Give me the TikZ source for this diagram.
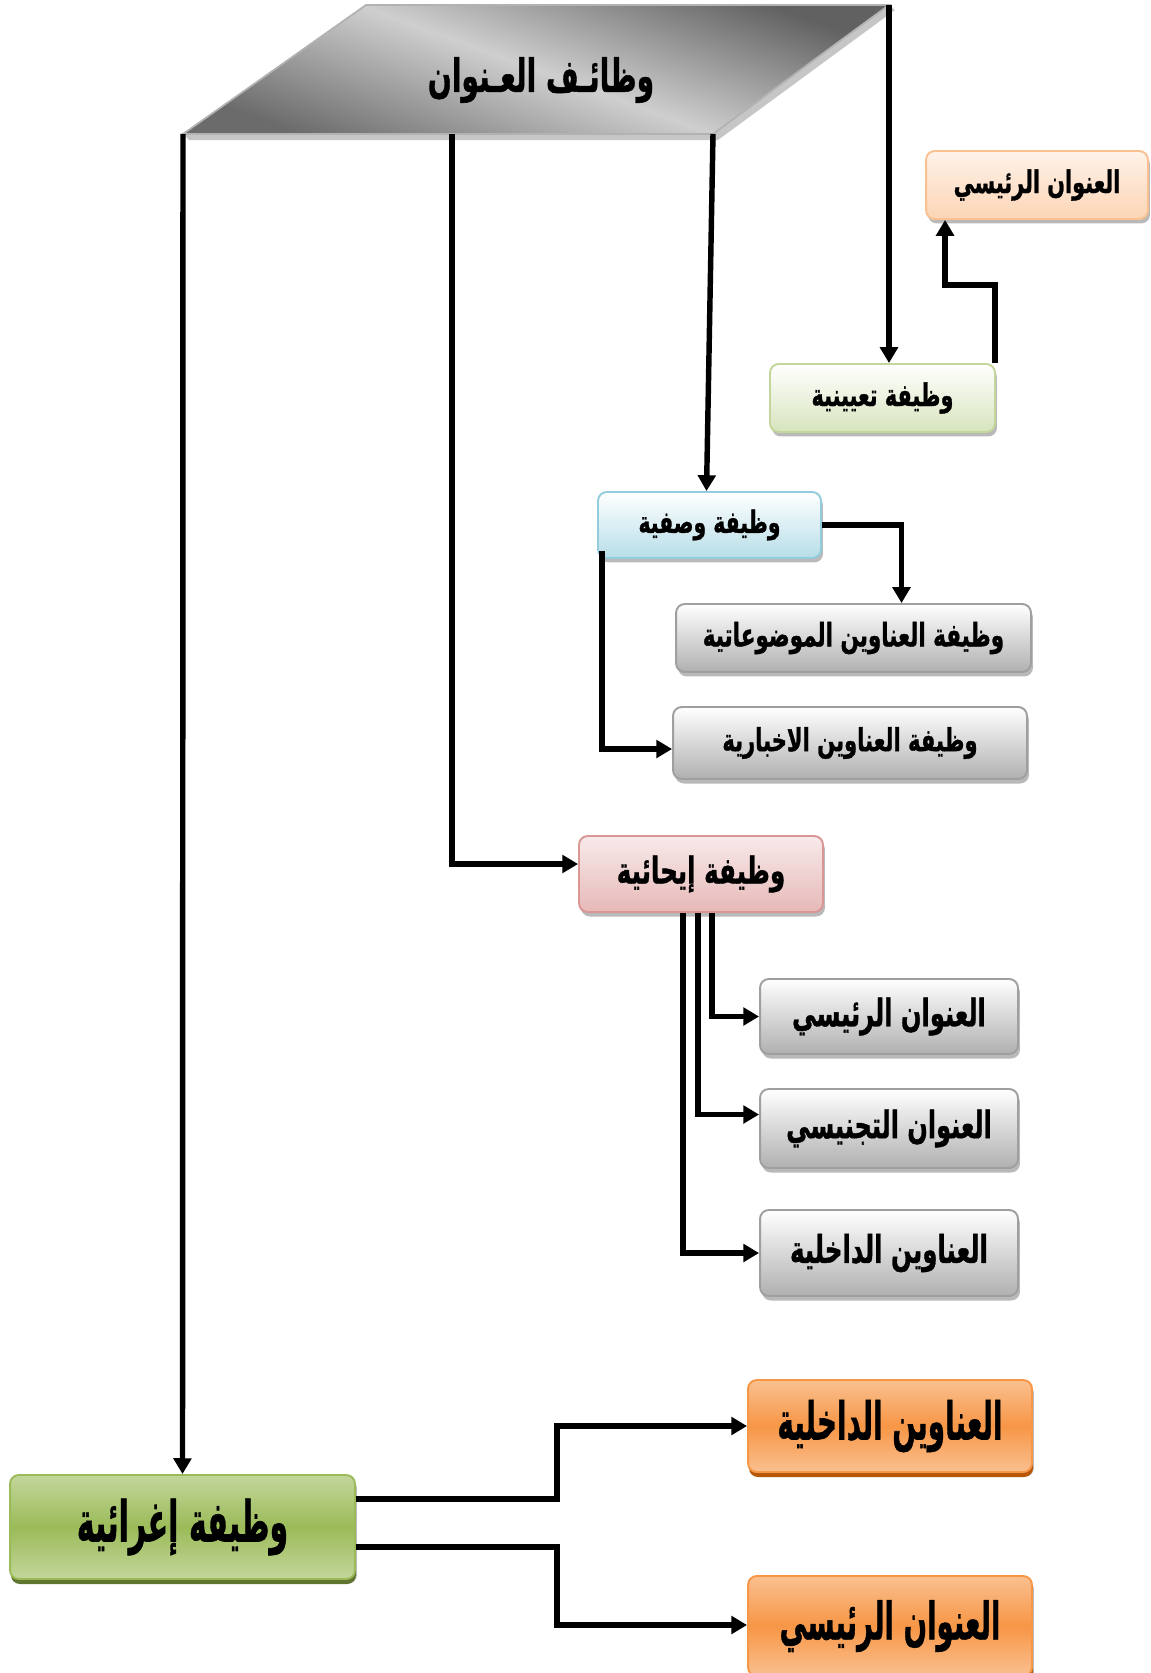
\documentclass[tikz,border=0pt]{standalone}
\usepackage{fontspec}
\usepackage{graphicx}
\usetikzlibrary{calc,shadows,arrows.meta}
\TeXXeTstate=1
\newfontfamily\arabicfont[Script=Arabic, BoldFeatures={FakeBold=1.2}]{DejaVu Sans}
\newcommand{\artxt}[3]{\scalebox{0.8}[#2]{\fontsize{#1}{#1}\arabicfont\bfseries #3}}
\definecolor{lgreen}{HTML}{D7E4BD}
\definecolor{lgreenb}{HTML}{C3D69B}
\definecolor{lblue}{HTML}{B7DEE8}
\definecolor{lblueb}{HTML}{93CDDD}
\definecolor{lpink}{HTML}{E6B9B8}
\definecolor{lpinkb}{HTML}{D99694}
\definecolor{lpeach}{HTML}{FCD5B5}
\definecolor{lpeachb}{HTML}{FAC090}
\definecolor{dgreen}{HTML}{9BBB59}
\definecolor{dgreenl}{HTML}{C3D69B}
\definecolor{dgreens}{HTML}{5F7530}
\definecolor{dorange}{HTML}{F79646}
\definecolor{dorangel}{HTML}{FAC090}
\definecolor{doranges}{HTML}{B65708}
\tikzset{
  box/.style={rounded corners=5pt, line width=1.1pt, inner sep=0pt, align=center,
    drop shadow={shadow xshift=0.04cm, shadow yshift=-0.09cm, fill=gray!55, opacity=1}},
  graybox/.style={box, draw=gray!75, top color=white, bottom color=gray!62},
  greenbox/.style={box, draw=lgreenb, top color=white, bottom color=lgreen},
  bluebox/.style={box, draw=lblueb, top color=white, bottom color=lblue},
  pinkbox/.style={box, draw=lpinkb, top color=lpink!30, bottom color=lpink},
  peachbox/.style={box, draw=lpeachb, top color=lpeach!30, bottom color=lpeach},
  bgreenbox/.style={box, draw=dgreen, top color=dgreenl, bottom color=dgreenl, middle color=dgreen,
    drop shadow={shadow xshift=0.02cm, shadow yshift=-0.1cm, fill=dgreens, opacity=1}},
  borangebox/.style={box, draw=dorange, top color=dorangel, bottom color=dorangel, middle color=dorange,
    drop shadow={shadow xshift=0.02cm, shadow yshift=-0.1cm, fill=doranges, opacity=1}},
  arr/.style={line width=3.1pt, -{Triangle[length=9pt,width=10pt]}}
}
\begin{document}
\begin{tikzpicture}[x=0.02cm,y=-0.02cm]
\useasboundingbox (0,0) rectangle (1150,1673);
%title
\coordinate (tTL) at (366,5);
\coordinate (tTR) at (889,5);
\coordinate (tBR) at (713,134);
\coordinate (tBL) at (183,134);
\coordinate (t2) at (452,134);
\fill[gray!45] (183,134) -- (189,140) -- (718,140) -- (895,10) -- (889,5) -- (713,134) -- cycle;
\shade[top color=black!62, bottom color=black!58, middle color=black!19, shading angle=-20,
  draw=gray!60, line width=1pt] (tTL) -- (tTR) -- (tBR) -- (tBL) -- cycle;
\node (tit) at (541,80) {\artxt{20pt}{1.3}{\beginR وظائـف العـنوان\endR}};
%boxes
\node[peachbox, minimum width=4.44cm, minimum height=1.36cm] (raisi1) at (1037,185) {\artxt{14.8pt}{1.2}{\beginR العنوان الرئيسي\endR}};
\node[greenbox, minimum width=4.5cm, minimum height=1.36cm] (tayin) at (882.5,398) {\artxt{14.8pt}{1.2}{\beginR وظيفة تعيينية\endR}};
\node[bluebox, minimum width=4.46cm, minimum height=1.32cm] (wasf) at (709.5,525) {\artxt{14.5pt}{1.2}{\beginR وظيفة وصفية\endR}};
\node[graybox, minimum width=7.1cm, minimum height=1.36cm] (mawdu) at (853.5,638) {\artxt{15.3pt}{1.2}{\beginR وظيفة العناوين الموضوعاتية\endR}};
\node[graybox, minimum width=7.08cm, minimum height=1.44cm] (ikh) at (850,743) {\artxt{15pt}{1.2}{\beginR وظيفة العناوين الاخبارية\endR}};
\node[pinkbox, minimum width=4.88cm, minimum height=1.52cm] (ihai) at (701,874) {\artxt{17.5pt}{1.2}{\beginR وظيفة إيحائية\endR}};
\node[graybox, minimum width=5.16cm, minimum height=1.5cm] (g1) at (889,1016.5) {\artxt{17.2pt}{1.25}{\beginR العنوان الرئيسي\endR}};
\node[graybox, minimum width=5.16cm, minimum height=1.58cm] (g2) at (889,1128.5) {\artxt{17.1pt}{1.25}{\beginR العنوان التجنيسي\endR}};
\node[graybox, minimum width=5.16cm, minimum height=1.72cm] (g3) at (889,1253) {\artxt{17.4pt}{1.25}{\beginR العناوين الداخلية\endR}};
\node[bgreenbox, minimum width=6.9cm, minimum height=2.08cm] (ighr) at (182.5,1527) {\artxt{21.4pt}{1.5}{\beginR وظيفة إغرائية\endR}};
\node[borangebox, minimum width=5.68cm, minimum height=1.84cm] (o1) at (890,1426) {\artxt{19.8pt}{1.5}{\beginR العناوين الداخلية\endR}};
\node[borangebox, minimum width=5.68cm, minimum height=2cm] (o2) at (890,1626) {\artxt{19.6pt}{1.5}{\beginR العنوان الرئيسي\endR}};
%arrows from title
\draw[arr] (tBL) -- (ighr.north);
\draw[arr] (t2) |- ($(ihai.west)+(0,-10)$);
\draw[arr] (tBR) -- ($(wasf.north)+(-3,0)$);
\draw[arr] (tTR) -- (tTR |- tayin.north);
%other arrows
\draw[arr] ($(tayin.north east)+(-1,0)$) -- ++(0,-78) -| ($(raisi1.south west)+(20,0)$);
\draw[arr] (wasf.east) -| ($(mawdu.north)+(48,0)$);
\draw[arr] ($(wasf.south west)+(5,-8)$) |- ($(ikh.west)+(0,6)$);
\draw[arr] ($(ihai.south)+(11,0)$) |- (g1.west);
\draw[arr] ($(ihai.south)+(-3,0)$) |- ($(g2.west)+(0,-14)$);
\draw[arr] ($(ihai.south)+(-18,0)$) |- (g3.west);
\draw[arr] ($(ighr.east)+(0,-28)$) -- ++(201,0) |- (o1.west);
\draw[arr] ($(ighr.east)+(0,20)$) -- ++(201,0) |- ($(o2.west)+(0,-1)$);
\end{tikzpicture}
\end{document}
